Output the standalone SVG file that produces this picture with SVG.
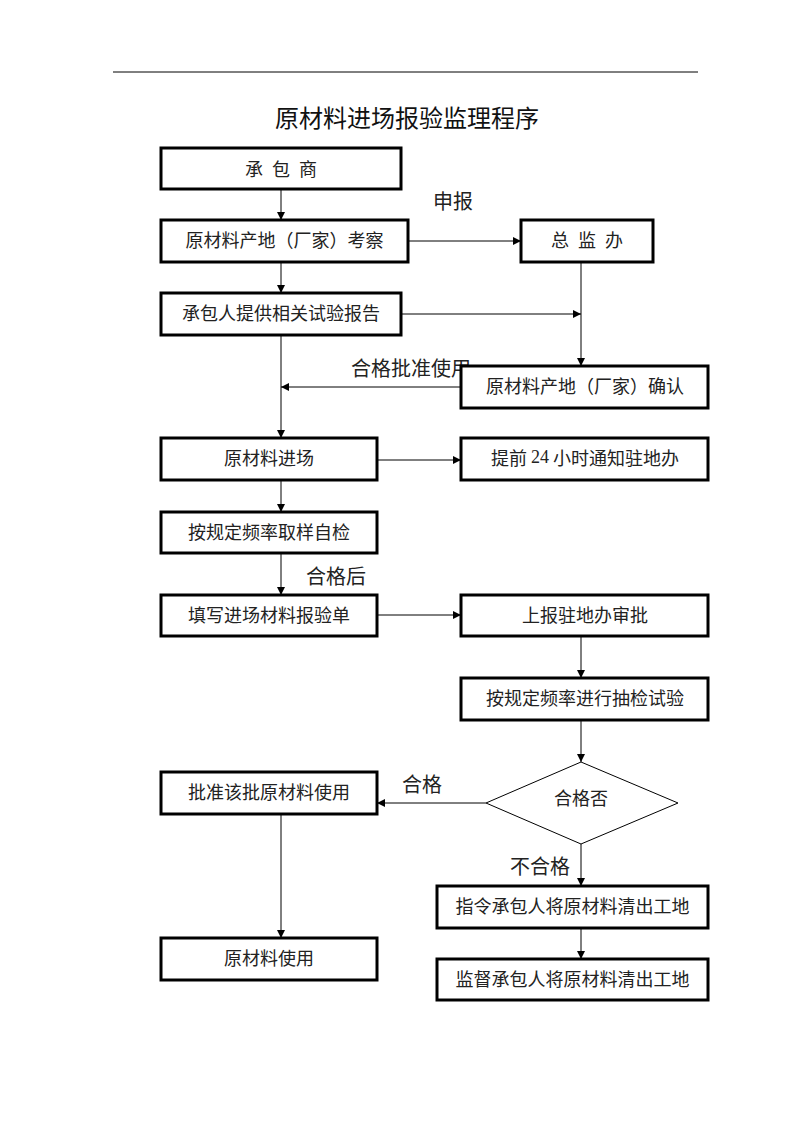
<svg xmlns="http://www.w3.org/2000/svg" width="793" height="1122" viewBox="0 0 793 1122">
<style>
.box{fill:#fff;stroke:#000;stroke-width:3}
.t{font-family:"Noto Sans CJK SC","Noto Sans CJK JP",sans-serif;font-size:18px;fill:#222;text-anchor:middle;dominant-baseline:central}
.lbl{font-family:"Noto Sans CJK SC","Noto Sans CJK JP",sans-serif;font-size:20px;fill:#222;text-anchor:middle;dominant-baseline:central}
.ttl{font-family:"Noto Sans CJK SC","Noto Sans CJK JP",sans-serif;font-size:24px;fill:#111;text-anchor:middle;dominant-baseline:central}
.c{fill:none;stroke:#000;stroke-width:1;marker-end:url(#ah)}
</style>
<defs>
<marker id="ah" viewBox="0 0 10 10" refX="10" refY="5" markerWidth="9" markerHeight="8" markerUnits="userSpaceOnUse" orient="auto">
<path d="M0,0 L10,5 L0,10 Z" fill="#000"/>
</marker>
</defs>
<rect width="793" height="1122" fill="#fff"/>
<line x1="113" y1="72" x2="698" y2="72" stroke="#000" stroke-width="1"/>
<text class="ttl" x="407" y="116">原材料进场报验监理程序</text>

<g id="labels">
<text class="lbl" x="453" y="200">申报</text>
<text class="lbl" x="411" y="367">合格批准使用</text>
<text class="lbl" x="336" y="575">合格后</text>
<text class="lbl" x="422" y="783">合格</text>
<text class="lbl" x="540" y="865">不合格</text>
</g>

<g id="connectors">
<line class="c" x1="281" y1="189" x2="281" y2="220"/>
<line class="c" x1="408" y1="241" x2="521" y2="241"/>
<line class="c" x1="281" y1="262" x2="281" y2="293"/>
<line class="c" x1="581" y1="262" x2="581" y2="366"/>
<line class="c" x1="401" y1="314" x2="581" y2="314"/>
<line class="c" x1="461" y1="387" x2="281" y2="387"/>
<line class="c" x1="281" y1="335" x2="281" y2="438"/>
<line class="c" x1="377" y1="460" x2="461" y2="460"/>
<line class="c" x1="281" y1="480" x2="281" y2="512"/>
<line class="c" x1="281" y1="553" x2="281" y2="595"/>
<line class="c" x1="377" y1="615" x2="461" y2="615"/>
<line class="c" x1="581" y1="636" x2="581" y2="678"/>
<line class="c" x1="581" y1="720" x2="581" y2="762"/>
<line class="c" x1="486" y1="803" x2="377" y2="803"/>
<line class="c" x1="281" y1="814" x2="281" y2="938"/>
<line class="c" x1="581" y1="844" x2="581" y2="886"/>
<line class="c" x1="581" y1="928" x2="581" y2="959"/>
</g>

<g id="n1"><rect class="box" x="161" y="148" width="240" height="41"/><text class="t" y="167.5"><tspan x="254">承</tspan><tspan x="281">包</tspan><tspan x="308">商</tspan></text></g>
<g id="n2"><rect class="box" x="161" y="220" width="247" height="42"/><text class="t" x="284.5" y="239">原材料产地（厂家）考察</text></g>
<g id="n3"><rect class="box" x="521" y="220" width="132" height="42"/><text class="t" y="239"><tspan x="560">总</tspan><tspan x="587">监</tspan><tspan x="614">办</tspan></text></g>
<g id="n4"><rect class="box" x="161" y="293" width="240" height="42"/><text class="t" x="281" y="312">承包人提供相关试验报告</text></g>
<g id="n5"><rect class="box" x="461" y="366" width="247" height="42"/><text class="t" x="585" y="385">原材料产地（厂家）确认</text></g>
<g id="n6"><rect class="box" x="161" y="438" width="216" height="42"/><text class="t" x="269" y="457">原材料进场</text></g>
<g id="n7"><rect class="box" x="461" y="438" width="247" height="42"/><text class="t" x="585" y="457">提前 <tspan font-family="'Liberation Serif',serif">24</tspan> 小时通知驻地办</text></g>
<g id="n8"><rect class="box" x="161" y="512" width="216" height="41"/><text class="t" x="269" y="531">按规定频率取样自检</text></g>
<g id="n9"><rect class="box" x="161" y="595" width="216" height="41"/><text class="t" x="269" y="614">填写进场材料报验单</text></g>
<g id="n10"><rect class="box" x="461" y="595" width="247" height="41"/><text class="t" x="585" y="614">上报驻地办审批</text></g>
<g id="n11"><rect class="box" x="461" y="678" width="247" height="42"/><text class="t" x="585" y="697">按规定频率进行抽检试验</text></g>
<g id="n12"><polygon points="581,762 678,803 581,844 486,803" fill="#fff" stroke="#000" stroke-width="1"/><text class="t" x="581" y="797">合格否</text></g>
<g id="n13"><rect class="box" x="161" y="772" width="216" height="42"/><text class="t" x="269" y="791">批准该批原材料使用</text></g>
<g id="n14"><rect class="box" x="437" y="886" width="271" height="42"/><text class="t" x="572.5" y="905">指令承包人将原材料清出工地</text></g>
<g id="n15"><rect class="box" x="161" y="938" width="216" height="42"/><text class="t" x="269" y="957">原材料使用</text></g>
<g id="n16"><rect class="box" x="437" y="959" width="271" height="41"/><text class="t" x="572.5" y="978">监督承包人将原材料清出工地</text></g>
</svg>
